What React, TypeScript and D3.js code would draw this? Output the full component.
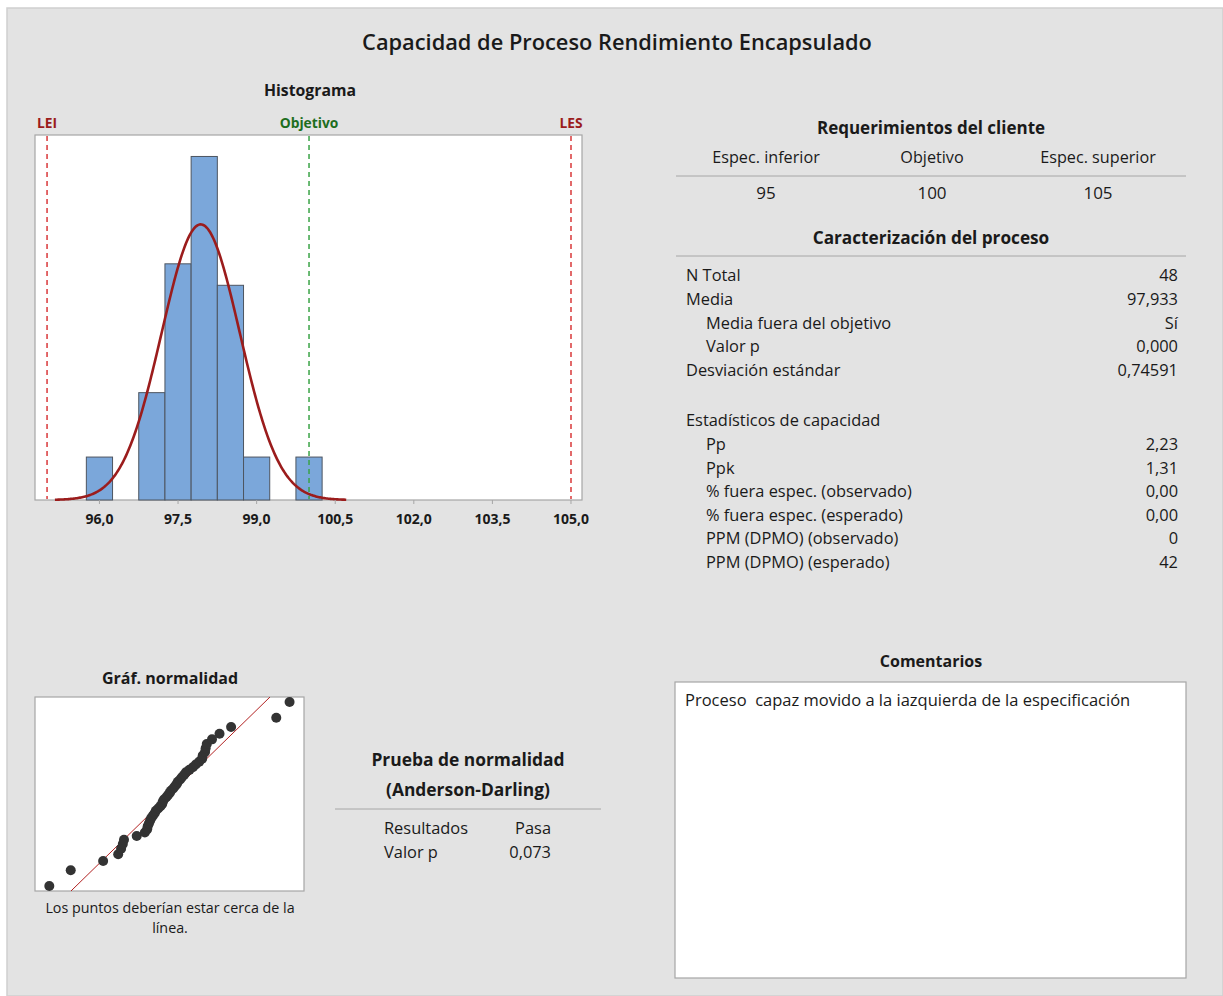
import React from "react";
import * as d3 from "d3";

// ---------- data ----------
const title = "Capacidad de Proceso Rendimiento Encapsulado";
const LSL = 95;
const TARGET = 100;
const USL = 105;
const MEAN = 97.933;
const SD = 0.74591;
const BIN_WIDTH = 0.5;
const BIN_START = 95.75;

// sorted observations (estimated from the normality plot / histogram)
const observations = [
  95.84, 96.21, 96.77, 97.03, 97.08, 97.11, 97.13, 97.35, 97.49, 97.53,
  97.54, 97.56, 97.58, 97.6, 97.63, 97.66, 97.68, 97.72, 97.76, 97.79,
  97.8, 97.82, 97.86, 97.89, 97.92, 97.94, 97.98, 98.01, 98.04, 98.06,
  98.1, 98.13, 98.17, 98.2, 98.26, 98.32, 98.37, 98.43, 98.48, 98.49,
  98.53, 98.54, 98.56, 98.65, 98.78, 98.98, 99.76, 99.99,
];

const xTicks = [96.0, 97.5, 99.0, 100.5, 102.0, 103.5, 105.0];

const reqHeaders = ["Espec. inferior", "Objetivo", "Espec. superior"];
const reqValues = ["95", "100", "105"];

const procLabels = [
  "N Total",
  "Media",
  "Media fuera del objetivo",
  "Valor p",
  "Desviación estándar",
];
const procValues = ["48", "97,933", "Sí", "0,000", "0,74591"];
const procIndent = [false, false, true, true, false];

const capLabels = [
  "Pp",
  "Ppk",
  "% fuera espec. (observado)",
  "% fuera espec. (esperado)",
  "PPM (DPMO) (observado)",
  "PPM (DPMO) (esperado)",
];
const capValues = ["2,23", "1,31", "0,00", "0,00", "0", "42"];

const adLabels = ["Resultados", "Valor p"];
const adValues = ["Pasa", "0,073"];

const comment = "Proceso  capaz movido a la iazquierda de la especificación";

// ---------- helpers ----------
function invNorm(p: number): number {
  const a = [-3.969683028665376e1, 2.209460984245205e2, -2.759285104469687e2, 1.38357751867269e2, -3.066479806614716e1, 2.506628277459239];
  const b = [-5.447609879822406e1, 1.615858368580409e2, -1.556989798598866e2, 6.680131188771972e1, -1.328068155288572e1];
  const c = [-7.784894002430293e-3, -3.223964580411365e-1, -2.400758277161838, -2.549732539343734, 4.374664141464968, 2.938163982698783];
  const d = [7.784695709041462e-3, 3.224671290700398e-1, 2.445134137142996, 3.754408661907416];
  const pl = 0.02425;
  if (p < pl) {
    const q = Math.sqrt(-2 * Math.log(p));
    return (((((c[0] * q + c[1]) * q + c[2]) * q + c[3]) * q + c[4]) * q + c[5]) /
      ((((d[0] * q + d[1]) * q + d[2]) * q + d[3]) * q + 1);
  }
  if (p > 1 - pl) {
    const q = Math.sqrt(-2 * Math.log(1 - p));
    return -(((((c[0] * q + c[1]) * q + c[2]) * q + c[3]) * q + c[4]) * q + c[5]) /
      ((((d[0] * q + d[1]) * q + d[2]) * q + d[3]) * q + 1);
  }
  const q = p - 0.5;
  const r = q * q;
  return (((((a[0] * r + a[1]) * r + a[2]) * r + a[3]) * r + a[4]) * r + a[5]) * q /
    (((((b[0] * r + b[1]) * r + b[2]) * r + b[3]) * r + b[4]) * r + 1);
}

const FONT = "'Open Sans', 'Noto Sans', sans-serif";
const TXT = "#1a1a1a";
const BODY = 16.4;

export default function App() {
  // histogram
  const hx = d3.scaleLinear().domain([94.77, 105.21]).range([35, 582]);
  const hy = d3.scaleLinear().domain([0, 17]).range([500, 135]);
  const thresholds = d3.range(0, 20).map((k) => BIN_START + k * BIN_WIDTH);
  const bins = d3
    .bin<number, number>()
    .domain([BIN_START, BIN_START + 19 * BIN_WIDTH])
    .thresholds(thresholds)(observations)
    .filter((b) => b.length > 0);

  const n = observations.length;
  const pdfScale = n * BIN_WIDTH;
  const curveXs = d3.range(95.15, 100.72, 0.02);
  const curve = d3
    .line<number>()
    .x((v) => hx(v))
    .y((v) => hy((pdfScale / (SD * Math.sqrt(2 * Math.PI))) * Math.exp(-0.5 * ((v - MEAN) / SD) ** 2)))
    .curve(d3.curveLinear)(curveXs);

  // normality plot
  const px = d3.scaleLinear().domain([95.593, 100.239]).range([35, 304]);
  const py = d3.scaleLinear().domain([-2.304, 2.304]).range([891, 697]);
  const pts = observations.map((v, i) => ({ v, z: invNorm((i + 1 - 0.3) / (n + 0.4)) }));
  const zLo = -2.304;
  const zHi = 2.304;

  const reqCols = [766, 932, 1098];

  return (
    <svg
      width={1223}
      height={996}
      style={{ position: "absolute", left: 0, top: 0, display: "block" }}
      fontFamily={FONT}
    >
      <rect x={0} y={0} width={1223} height={996} fill="#ffffff" />
      <rect x={7} y={8} width={1216} height={988} fill="#e3e3e3" stroke="#cfcfcf" strokeWidth={1.5} />

      <text x={617} y={50} textAnchor="middle" fontSize={21.8} fontWeight={600} fill={TXT}>
        {title}
      </text>

      {/* Histogram */}
      <text x={310} y={96} textAnchor="middle" fontSize={15.8} fontWeight={700} fill={TXT}>
        Histograma
      </text>
      <rect x={35} y={135} width={547} height={365} fill="#ffffff" stroke="#a6a6a6" strokeWidth={1.2} />
      {bins.map((b, i) => (
        <rect
          key={i}
          x={hx(b.x0 as number)}
          y={hy(b.length)}
          width={hx(b.x1 as number) - hx(b.x0 as number)}
          height={hy(0) - hy(b.length)}
          fill="#7ba7da"
          stroke="#4d5560"
          strokeWidth={1}
        />
      ))}
      <line x1={hx(LSL)} x2={hx(LSL)} y1={136} y2={499} stroke="#d9383a" strokeWidth={1.5} strokeDasharray="5,4" />
      <line x1={hx(USL)} x2={hx(USL)} y1={136} y2={499} stroke="#d9383a" strokeWidth={1.5} strokeDasharray="5,4" />
      <line x1={hx(TARGET)} x2={hx(TARGET)} y1={136} y2={499} stroke="#3aa346" strokeWidth={1.5} strokeDasharray="5,4" />
      <path d={curve || ""} fill="none" stroke="#9b1c1c" strokeWidth={2.6} />
      <text x={hx(LSL)} y={128} textAnchor="middle" fontSize={13.8} fontWeight={700} fill="#9b1c1c">LEI</text>
      <text x={hx(TARGET)} y={128} textAnchor="middle" fontSize={13.8} fontWeight={700} fill="#1e6e1e">Objetivo</text>
      <text x={hx(USL)} y={128} textAnchor="middle" fontSize={13.8} fontWeight={700} fill="#9b1c1c">LES</text>
      {xTicks.map((t) => (
        <g key={t}>
          <line x1={hx(t)} x2={hx(t)} y1={500} y2={504} stroke="#a6a6a6" />
          <text x={hx(t)} y={524} textAnchor="middle" fontSize={14} fontWeight={700} fill={TXT}>
            {t.toFixed(1).replace(".", ",")}
          </text>
        </g>
      ))}

      {/* Requirements table */}
      <text x={931} y={134} textAnchor="middle" fontSize={17} fontWeight={700} fill={TXT}>
        Requerimientos del cliente
      </text>
      {reqHeaders.map((h, i) => (
        <text key={h} x={reqCols[i]} y={163} textAnchor="middle" fontSize={16.2} fill={TXT}>{h}</text>
      ))}
      <line x1={676} x2={1186} y1={176} y2={176} stroke="#a6a6a6" strokeWidth={1} />
      {reqValues.map((v, i) => (
        <text key={v} x={reqCols[i]} y={199} textAnchor="middle" fontSize={BODY + 0.6} fill={TXT}>{v}</text>
      ))}

      <text x={931} y={244} textAnchor="middle" fontSize={17.2} fontWeight={700} fill={TXT}>
        Caracterización del proceso
      </text>
      <line x1={676} x2={1186} y1={256} y2={256} stroke="#a6a6a6" strokeWidth={1} />
      {procLabels.map((l, i) => (
        <g key={l}>
          <text x={procIndent[i] ? 706 : 686} y={281 + i * 23.8} fontSize={BODY} fill={TXT}>{l}</text>
          <text x={1178} y={281 + i * 23.8} textAnchor="end" fontSize={BODY} fill={TXT}>{procValues[i]}</text>
        </g>
      ))}
      <text x={686} y={426} fontSize={BODY} fill={TXT}>Estadísticos de capacidad</text>
      {capLabels.map((l, i) => (
        <g key={l}>
          <text x={706} y={450 + i * 23.6} fontSize={BODY} fill={TXT}>{l}</text>
          <text x={1178} y={450 + i * 23.6} textAnchor="end" fontSize={BODY} fill={TXT}>{capValues[i]}</text>
        </g>
      ))}

      {/* Normality plot */}
      <text x={170} y={684} textAnchor="middle" fontSize={16} fontWeight={700} fill={TXT}>
        Gráf. normalidad
      </text>
      <rect x={35} y={697} width={269} height={194} fill="#ffffff" stroke="#a6a6a6" strokeWidth={1.2} />
      <defs>
        <clipPath id="npclip">
          <rect x={35} y={697} width={269} height={194} />
        </clipPath>
      </defs>
      <line
        x1={px(MEAN + SD * zLo)}
        y1={py(zLo)}
        x2={px(MEAN + SD * zHi)}
        y2={py(zHi)}
        stroke="#b22222"
        strokeWidth={1}
        clipPath="url(#npclip)"
      />
      {pts.map((p, i) => (
        <circle key={i} cx={px(p.v)} cy={py(p.z)} r={5} fill="#333333" />
      ))}
      <text x={170} y={913} textAnchor="middle" fontSize={14.3} fill={TXT}>
        Los puntos deberían estar cerca de la
      </text>
      <text x={170} y={933} textAnchor="middle" fontSize={14.3} fill={TXT}>línea.</text>

      {/* Anderson-Darling */}
      <text x={468} y={766} textAnchor="middle" fontSize={17.4} fontWeight={700} fill={TXT}>
        Prueba de normalidad
      </text>
      <text x={468} y={796} textAnchor="middle" fontSize={17.4} fontWeight={700} fill={TXT}>
        (Anderson-Darling)
      </text>
      <line x1={335} x2={601} y1={809} y2={809} stroke="#a6a6a6" strokeWidth={1} />
      {adLabels.map((l, i) => (
        <g key={l}>
          <text x={384} y={834 + i * 24} fontSize={BODY} fill={TXT}>{l}</text>
          <text x={551} y={834 + i * 24} textAnchor="end" fontSize={BODY} fill={TXT}>{adValues[i]}</text>
        </g>
      ))}

      {/* Comments */}
      <text x={931} y={667} textAnchor="middle" fontSize={16} fontWeight={700} fill={TXT}>
        Comentarios
      </text>
      <rect x={675} y={682} width={511} height={296} fill="#ffffff" stroke="#a6a6a6" strokeWidth={1.2} />
      <text x={685} y={706} fontSize={16.5} fill={TXT} style={{ whiteSpace: "pre" }}>
        {comment}
      </text>
    </svg>
  );
}
